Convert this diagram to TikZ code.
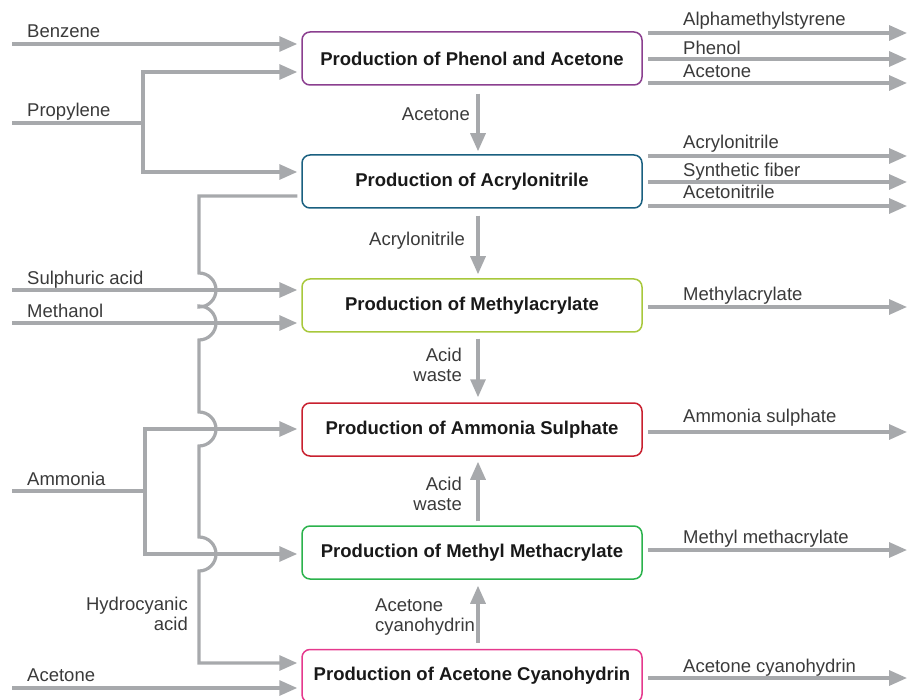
\documentclass[tikz,border=0pt]{standalone}
\usepackage{fontspec}
\setmainfont{Liberation Sans}
\usetikzlibrary{arrows.meta}
\definecolor{flowgray}{HTML}{A7A9AC}
\definecolor{txtgray}{HTML}{3A3A3A}
\definecolor{phenolc}{HTML}{8B3F8F}
\definecolor{acryloc}{HTML}{1A6080}
\definecolor{methylc}{HTML}{A8C83C}
\definecolor{ammonc}{HTML}{C8202F}
\definecolor{mmac}{HTML}{2BB24C}
\definecolor{cyanoc}{HTML}{E5398D}

\begin{document}
\begin{tikzpicture}[x=1pt,y=-1pt,
    pipe/.style={flowgray,line width=3.2pt},
    flow/.style={pipe,-{Triangle[length=18pt,width=15pt]},shorten >=4pt},
    unit/.style={draw,rounded corners=8pt,line width=1.5pt,minimum width=340pt,
      minimum height=53pt,inner sep=0pt,text=black!90,
      font=\fontsize{18.5}{21}\selectfont\bfseries},
    lbl/.style={text=txtgray,inner sep=0pt,font=\fontsize{18.5}{20}\selectfont}]
    \useasboundingbox (0,0) rectangle (907,700);

    \node[unit,draw=phenolc] (phenol) at (472,58.5) {Production of Phenol and Acetone};
    \node[unit,draw=acryloc] (acrylo) at (472,181.5) {Production of Acrylonitrile};
    \node[unit,draw=methylc] (methyl) at (472,305.5) {Production of Methylacrylate};
    \node[unit,draw=ammonc] (ammon) at (472,429.5) {Production of Ammonia Sulphate};
    \node[unit,draw=mmac] (mma) at (472,552.5) {Production of Methyl Methacrylate};
    \node[unit,draw=cyanoc] (cyano) at (472,676) {Production of Acetone Cyanohydrin};

    \foreach \unit/\y/\base/\t in {phenol/33/26/Alphamethylstyrene,phenol/59/55/Phenol,phenol/83/78/Acetone,
        acrylo/156/149/Acrylonitrile,acrylo/182/177/Synthetic fiber,acrylo/206/199/Acetonitrile,
        methyl/307/301/Methylacrylate,ammon/432/422/Ammonia sulphate,
        mma/550/543/Methyl methacrylate,cyano/678/672/Acetone cyanohydrin}
    {
        \coordinate (out) at (907,\y);
        \draw[flow,shorten >=0pt] ([xshift=5pt]\unit.east |- out) -- (out);
        \node[lbl,anchor=base west] (outlbl) at (683,\base) {\t};
    }

    \coordinate (benzene) at (12,44);
    \coordinate (propylene) at (12,123);
    \coordinate (propfork) at (143,123);
    \coordinate (propA) at (143,72);
    \coordinate (propB) at (143,172);
    \coordinate (sulph) at (12,290);
    \coordinate (methanol) at (12,323);
    \coordinate (ammonia) at (12,491);
    \coordinate (ammfork) at (145,491);
    \coordinate (ammA) at (145,429);
    \coordinate (ammB) at (145,554);
    \coordinate (acetone) at (12,688);
    \coordinate (hcnA) at (199,196);
    \coordinate (hcnB) at (199,663);

    \node[lbl,anchor=base west] (benzenelbl) at (27,38) {Benzene};
    \node[lbl,anchor=base west] (propylenelbl) at (27,117) {Propylene};
    \node[lbl,anchor=base west] (sulphlbl) at (27,285) {Sulphuric acid};
    \node[lbl,anchor=base west] (methanollbl) at (27,318) {Methanol};
    \node[lbl,anchor=base west] (ammonialbl) at (27,485) {Ammonia};
    \node[lbl,anchor=base west] (acetonelbl) at (27,681) {Acetone};
    \node[lbl,anchor=base east,align=right] (hcnlbl) at (188,630) {Hydrocyanic\\acid};

    \draw[flow] (benzene) -- (benzene -| phenol.west);
    \draw[pipe] (propylene) -- (propfork);
    \draw[flow] (propfork) -- (propA) -- (propA -| phenol.west);
    \draw[flow] (propfork) -- (propB) -- (propB -| acrylo.west);
    \draw[flow] (sulph) -- (sulph -| methyl.west);
    \draw[flow] (methanol) -- (methanol -| methyl.west);
    \draw[pipe] (ammonia) -- (ammfork);
    \draw[flow] (ammfork) -- (ammA) -- (ammA -| ammon.west);
    \draw[flow] (ammfork) -- (ammB) -- (ammB -| mma.west);
    \draw[flow] (acetone) -- (acetone -| cyano.west);
    \draw[flow] ([xshift=-4pt]acrylo.west |- hcnA) -- (hcnA)
        -- (199,273) arc[start angle=90,end angle=-90,radius=17pt]
        -- (199,306) arc[start angle=90,end angle=-90,radius=17pt]
        -- (199,412) arc[start angle=90,end angle=-90,radius=17pt]
        -- (199,537) arc[start angle=90,end angle=-90,radius=17pt]
        -- (hcnB) -- (hcnB -| cyano.west);

    \draw[flow,shorten >=3pt] ([xshift=6pt,yshift=-8pt]phenol.south) -- ([xshift=6pt]acrylo.north);
    \draw[flow,shorten >=4pt] ([xshift=6pt,yshift=-7pt]acrylo.south) -- ([xshift=6pt]methyl.north);
    \draw[flow,shorten >=5pt] ([xshift=6pt,yshift=-6pt]methyl.south) -- ([xshift=6pt]ammon.north);
    \draw[flow,shorten >=5pt] ([xshift=6pt,yshift=4pt]mma.north) -- ([xshift=6pt]ammon.south);
    \draw[flow,shorten >=6pt] ([xshift=6pt,yshift=6pt]cyano.north) -- ([xshift=6pt]mma.south);

    \node[lbl,anchor=base east] (acetonedown) at (470,121) {Acetone};
    \node[lbl,anchor=base east] (acrylodown) at (465,246) {Acrylonitrile};
    \node[lbl,anchor=base east,align=right] (wastedown) at (462,381) {Acid\\waste};
    \node[lbl,anchor=base east,align=right] (wasteup) at (462,510) {Acid\\waste};
    \node[lbl,anchor=base west,align=left] (cyanoup) at (375,631) {Acetone\\cyanohydrin};
\end{tikzpicture}
\end{document}
